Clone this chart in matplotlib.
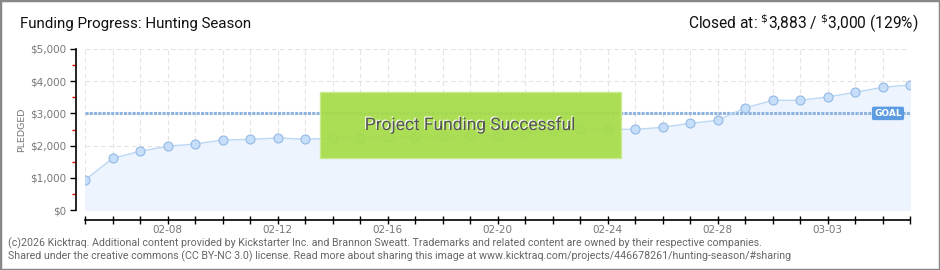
import numpy as np
import matplotlib
matplotlib.use('Agg')
import matplotlib.pyplot as plt
from matplotlib.ticker import MultipleLocator
from matplotlib.patches import Rectangle
import matplotlib.patheffects as pe

# daily pledged totals, 02-05 .. 03-06
dates = ['02-05', '02-06', '02-07', '02-08', '02-09', '02-10', '02-11', '02-12', '02-13', '02-14',
         '02-15', '02-16', '02-17', '02-18', '02-19', '02-20', '02-21', '02-22', '02-23', '02-24',
         '02-25', '02-26', '02-27', '02-28', '02-29', '03-01', '03-02', '03-03', '03-04', '03-05', '03-06']
pledged = [930, 1605, 1823, 1978, 2050, 2174, 2195, 2236, 2200, 2226,
           2226, 2277, 2277, 2308, 2298, 2308, 2402, 2450, 2505, 2505,
           2505, 2567, 2691, 2785, 3168, 3406, 3406, 3509, 3654, 3810, 3883]
goal = 3000
yticks = [0, 1000, 2000, 3000, 4000, 5000]
ytick_labels = ['$0', '$1,000', '$2,000', '$3,000', '$4,000', '$5,000']

W, H = 940, 270
fig = plt.figure(figsize=(W/100, H/100), dpi=100)
fig.patch.set_facecolor('white')

plt.rcParams['font.family'] = ['Roboto', 'DejaVu Sans']

# axes placed so data area spans pixels 85..910 x 49..210
ax = fig.add_axes([85/W, (H-210)/H, (910-85)/W, (210-49)/H])
x = np.arange(len(pledged))

ax.fill_between(x, 0, pledged, color='#edf4fd', zorder=1)
ax.plot(x, pledged, color='#bcd8f5', linewidth=1, zorder=3)
ax.plot(x, pledged, 'o', markersize=6.5, markerfacecolor='#c6defa', markeredgecolor='#94b9e4',
        markeredgewidth=0.8, zorder=4)
ax.axhline(goal, color='#8db3de', linewidth=2.2, linestyle=(0, (1, 0.4)), zorder=2)

ax.set_xlim(0, len(pledged)-1)
ax.set_ylim(0, 5000)

ax.set_xticks(x)
ax.set_xticklabels([d if i % 4 == 3 else '' for i, d in enumerate(dates)])
ax.set_yticks(yticks)
ax.set_yticklabels(ytick_labels)
ax.yaxis.set_minor_locator(MultipleLocator(500))

ax.grid(True, color='#e3e3e3', linestyle=(0, (4, 3)), linewidth=0.8, zorder=0)
ax.set_axisbelow(True)

for s in ['top', 'right']:
    ax.spines[s].set_visible(False)
ax.spines['left'].set_position(('outward', 6.5))
ax.spines['bottom'].set_position(('outward', 7.5))
ax.spines['left'].set_linewidth(1.2)
ax.spines['bottom'].set_linewidth(1.2)

ax.tick_params(axis='y', which='major', length=4, width=1, color='black', labelsize=7.5,
               labelcolor='#777777', pad=3)
ax.tick_params(axis='y', which='minor', length=3, width=1, color='#e00000')
ax.tick_params(axis='x', which='major', length=6, width=1, direction='inout', color='black',
               labelsize=7.5, labelcolor='#777777', pad=0.5)
for lab in ax.get_yticklabels() + ax.get_xticklabels():
    lab.set_family('DejaVu Sans')

ax.set_ylabel('PLEDGED', fontsize=6.8, color='#777777', family='DejaVu Sans', labelpad=3)

# success banner
ax.add_patch(Rectangle((8.55, 1615), 19.49-8.55, 3665-1615, facecolor='#a6dc48',
                       edgecolor='#c8eb8e', linewidth=1, alpha=0.93, zorder=5))
ax.text(14.0, 2640, 'Project Funding Successful', fontsize=12.5, color='#555555',
        ha='center', va='center', zorder=6,
        path_effects=[pe.withSimplePatchShadow(offset=(-0.8, 0.8), shadow_rgbFace='white', alpha=0.9)])

# goal tag
ax.text(29.2, goal, 'GOAL', fontsize=6.5, color='white', ha='center', va='center', zorder=6,
        family='DejaVu Sans', fontweight='bold',
        bbox=dict(boxstyle='round,pad=0.25,rounding_size=0.2', facecolor='#5d9ce0', edgecolor='none'))

fig.text(20/W, 1-24/H, 'Funding Progress: Hunting Season', fontsize=10.9, color='#111111', va='center')
fig.text(918/W, 1-24/H, r'Closed at: $^{\$}$3,883 / $^{\$}$3,000 (129%)', fontsize=11.2,
         color='#111111', va='center', ha='right')

fig.text(8/W, 1-243/H, '(c)2026 Kicktraq. Additional content provided by Kickstarter Inc. and Brannon Sweatt. '
         'Trademarks and related content are owned by their respective companies.',
         fontsize=7.65, color='#666666', va='center')
fig.text(8/W, 1-256/H, 'Shared under the creative commons (CC BY-NC 3.0) license. Read more about sharing '
         'this image at www.kicktraq.com/projects/446678261/hunting-season/#sharing',
         fontsize=7.65, color='#666666', va='center')

# outer border
fig.add_artist(Rectangle((0, 0), 1, 1, transform=fig.transFigure, fill=False,
                         edgecolor='#888888', linewidth=2.5))

fig.savefig('out.png', dpi=100)
